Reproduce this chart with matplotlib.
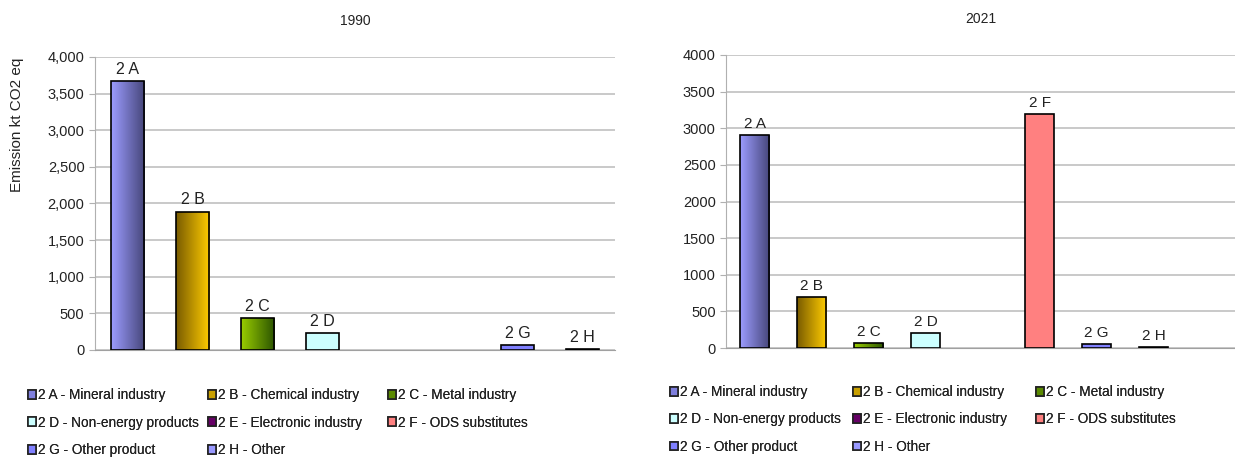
import numpy as np
import matplotlib
matplotlib.use('Agg')
import matplotlib.pyplot as plt
from matplotlib.patches import Patch
from matplotlib.colors import LinearSegmentedColormap
from matplotlib.ticker import FuncFormatter

plt.rcParams['font.family'] = ['Liberation Sans', 'DejaVu Sans']

# data
codes = ['2 A', '2 B', '2 C', '2 D', '2 E', '2 F', '2 G', '2 H']
names = ['Mineral industry', 'Chemical industry', 'Metal industry',
         'Non-energy products', 'Electronic industry', 'ODS substitutes',
         'Other product', 'Other']
values_1990 = [3670, 1890, 440, 235, 0, 0, 70, 15]
values_2021 = [2910, 700, 70, 205, 0, 3190, 55, 15]

# colours: (left, right) of the horizontal gradient
grad = {
    '2 A': ('#9c9cff', '#46467a'),
    '2 B': ('#7a5c00', '#ffcc00'),
    '2 C': ('#99cc00', '#2b5400'),
}
flat = {'2 A': '#7f7fdd', '2 B': '#c9a000', '2 C': '#5a8a00', '2 D': '#ccffff',
        '2 E': '#660066', '2 F': '#ff8080', '2 G': '#8080ff', '2 H': '#9999ff'}

W, H = 1235, 461


def draw_panel(ax, values, title, slot_end, comma=False, lsize=11.5):
    x = np.arange(len(codes))
    bars = ax.bar(x, values, width=0.52, color=[flat[c] for c in codes],
                  edgecolor='black', linewidth=1.2, zorder=3)
    for c, b, v in zip(codes, bars, values):
        if v == 0:
            b.set_visible(False)
            continue
        if c in grad:
            cmap = LinearSegmentedColormap.from_list(c, grad[c])
            img = ax.imshow(np.linspace(0, 1, 64).reshape(1, -1), cmap=cmap,
                            extent=(b.get_x(), b.get_x() + b.get_width(), 0, v),
                            aspect='auto', zorder=3.5)
            img.set_clip_path(b)
            b.set_facecolor('none')
            b.set_zorder(4)
        ax.annotate(c, (b.get_x() + b.get_width() / 2, v),
                    xytext=(0, 3), textcoords='offset points',
                    ha='center', va='bottom', fontsize=lsize, color='#222222')
    ax.set_xlim(-0.5, slot_end)
    ax.set_ylim(0, 4000)
    ax.set_yticks(range(0, 4001, 500))
    if comma:
        ax.yaxis.set_major_formatter(FuncFormatter(lambda v, p: f'{int(v):,}'))
    ax.set_xticks([])
    ax.grid(axis='y', color='#c0c0c0', linewidth=1.2, zorder=0)
    for s in ['top', 'right']:
        ax.spines[s].set_visible(False)
    ax.spines['left'].set_color('#b0b0b0')
    ax.spines['bottom'].set_color('#a0a0a0')
    ax.tick_params(axis='y', length=4, color='#b0b0b0', labelsize=10.5,
                   labelcolor='#222222')
    ax.set_title(title, fontsize=10, pad=23, color='#222222')


def add_legend(cols_x, top_y, row_gap):
    # one small legend per column, rows read A B C / D E F / G H
    for col, cx in enumerate(cols_x):
        idx = [i for i in range(col, len(codes), 3)]
        handles = [Patch(facecolor=flat[codes[i]], edgecolor='#222222',
                         linewidth=1.2, label=f'{codes[i]} - {names[i]}')
                   for i in idx]
        leg = fig.legend(handles=handles, loc='upper left',
                         bbox_to_anchor=(cx / W, 1 - top_y / H),
                         frameon=False, fontsize=9.8, handlelength=0.6,
                         handleheight=0.6, handletextpad=0.15, borderpad=0,
                         borderaxespad=0, labelspacing=row_gap,
                         labelcolor='#222222')
        fig.add_artist(leg)


fig = plt.figure(figsize=(W / 100, H / 100), dpi=100)
ax1 = fig.add_axes([0.0769, 0.2408, 0.4211, 0.6356])
ax2 = fig.add_axes([0.5879, 0.2451, 0.4121, 0.6356])

draw_panel(ax1, values_1990, '1990', 7.5, comma=True, lsize=11.5)
draw_panel(ax2, values_2021, '2021', 8.43, lsize=11)

ax1.set_ylabel('Emission kt CO2 eq', fontsize=11, color='#222222')
ax1.yaxis.set_label_coords(-0.136, 0.77)

add_legend([28, 208, 388], 388, 1.0)
add_legend([670, 853, 1036], 385, 0.98)

fig.savefig('out.png', dpi=100)
